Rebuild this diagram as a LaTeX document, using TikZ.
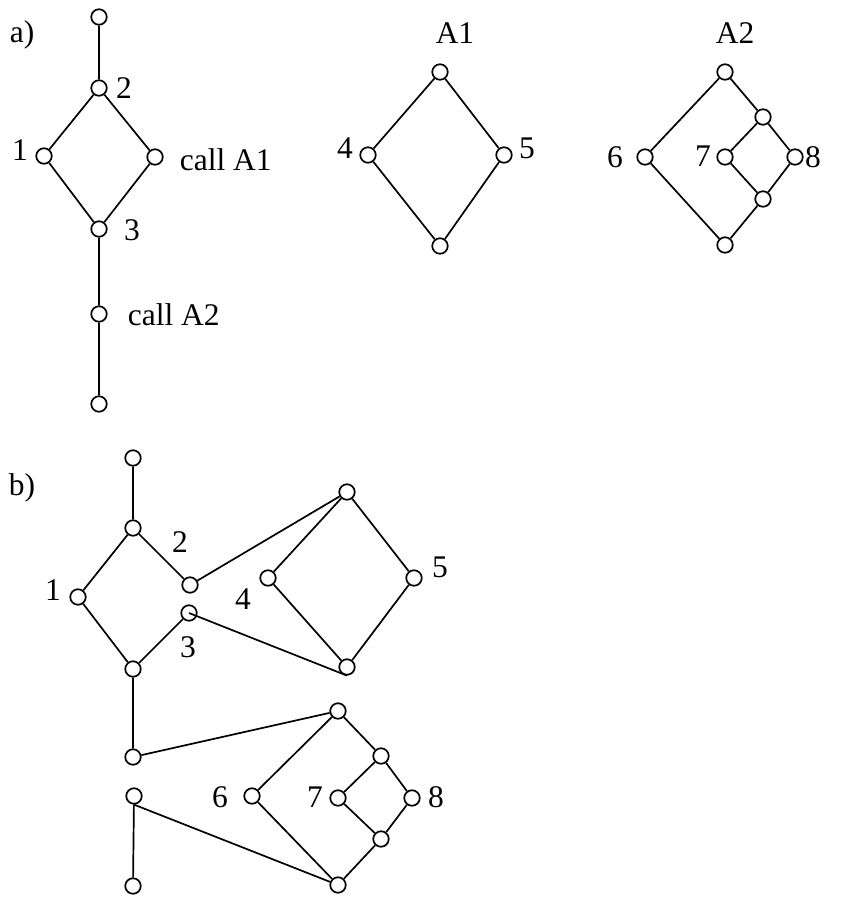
\documentclass[tikz,border=0pt]{standalone}
\usepackage{fontspec}
\setmainfont{Liberation Serif}
\begin{document}
\begin{tikzpicture}[x=1pt,y=-1pt,
  vtx/.style={circle,draw,line width=1.7pt,minimum size=15.5pt,inner sep=0pt},
  lbl/.style={inner sep=0pt,font=\fontsize{31.5}{36}\selectfont},
  every path/.style={line width=1.7pt}]
\useasboundingbox (0,0) rectangle (861,897);
% ---- a) main
\node[lbl] (la) at (22,35) {a)};
\node[vtx] (a0) at (99,17) {};
\node[vtx] (a2) at (99,88) {};
\node[vtx] (a1) at (44,156) {};
\node[vtx] (ac1) at (155,157) {};
\node[vtx] (a3) at (99,229) {};
\node[vtx] (ac2) at (99,314) {};
\node[vtx] (ae) at (99,404) {};
\draw (a0)--(a2) (a2)--(a1) (a2)--(ac1) (a1)--(a3) (ac1)--(a3) (a3)--(ac2) (ac2)--(ae);
\node[lbl] (t2a) at (124,88) {2};
\node[lbl] (t1a) at (20,150) {1};
\node[lbl,anchor=west] (tca1) at (179,160) {call A1};
\node[lbl] (t3a) at (132,230) {3};
\node[lbl,anchor=west] (tca2) at (127,315) {call A2};
% ---- A1
\node[lbl] (tA1) at (455,33) {A1};
\node[vtx] (p0) at (440,72) {};
\node[vtx] (p4) at (368,155) {};
\node[vtx] (p5) at (504,155) {};
\node[vtx] (pe) at (440,246) {};
\draw (p0)--(p4) (p0)--(p5) (p4)--(pe) (p5)--(pe);
\node[lbl] (t4a) at (345,148) {4};
\node[lbl] (t5a) at (527,148) {5};
% ---- A2
\node[lbl] (tA2) at (735,33) {A2};
\node[vtx] (q0) at (725,72) {};
\node[vtx] (q6) at (645,157) {};
\node[vtx] (qi) at (763,117) {};
\node[vtx] (q7) at (725,157) {};
\node[vtx] (q8) at (795,157) {};
\node[vtx] (qj) at (763,199) {};
\node[vtx] (qe) at (725,245) {};
\draw (q0)--(q6) (q0)--(qi) (qi)--(q7) (qi)--(q8) (q7)--(qj) (q8)--(qj) (qj)--(qe) (q6)--(qe);
\node[lbl] (t6a) at (615,157) {6};
\node[lbl] (t7a) at (703,156) {7};
\node[lbl] (t8a) at (813,157) {8};
% ---- b)
\node[lbl] (lb) at (22,488) {b)};
\node[vtx] (b0) at (133,458) {};
\node[vtx] (b2) at (133,528) {};
\node[vtx] (b1) at (78,597) {};
\node[vtx] (bc) at (190,585) {};
\node[vtx] (br) at (189,613) {};
\node[vtx] (b3) at (133,669) {};
\node[vtx] (bc2) at (133,757) {};
\node[vtx] (bt) at (134,796) {};
\node[vtx] (be) at (133,886) {};
% inlined A1
\node[vtx] (c0) at (347,492) {};
\node[vtx] (c4) at (268,578) {};
\node[vtx] (c5) at (414,578) {};
\node[vtx] (ce) at (347,667) {};
% inlined A2
\node[vtx] (d0) at (338,711) {};
\node[vtx] (d6) at (252,796) {};
\node[vtx] (di) at (381,756) {};
\node[vtx] (d7) at (338,798) {};
\node[vtx] (d8) at (412,798) {};
\node[vtx] (dj) at (381,839) {};
\node[vtx] (de) at (338,885) {};
\draw (b0)--(b2) (b2)--(b1) (b2)--(bc) (b1)--(b3) (b3)--(br) (b3)--(bc2) (bt)--(be);
\draw (bc)--(c0) (br.center)--(ce.south) (bc2)--(d0) (bt.south)--(de);
\draw (c0)--(c4) (c0)--(c5) (c4)--(ce) (c5)--(ce);
\draw (d0)--(d6) (d0)--(di) (di)--(d7) (di)--(d8) (d7)--(dj) (d8)--(dj) (dj)--(de) (d6)--(de);
\node[lbl] (t2b) at (180,542) {2};
\node[lbl] (t1b) at (53,590) {1};
\node[lbl] (t4b) at (243,599) {4};
\node[lbl] (t5b) at (440,567) {5};
\node[lbl] (t3b) at (188,647) {3};
\node[lbl] (t6b) at (220,797) {6};
\node[lbl] (t7b) at (315,797) {7};
\node[lbl] (t8b) at (436,797) {8};
\end{tikzpicture}
\end{document}
